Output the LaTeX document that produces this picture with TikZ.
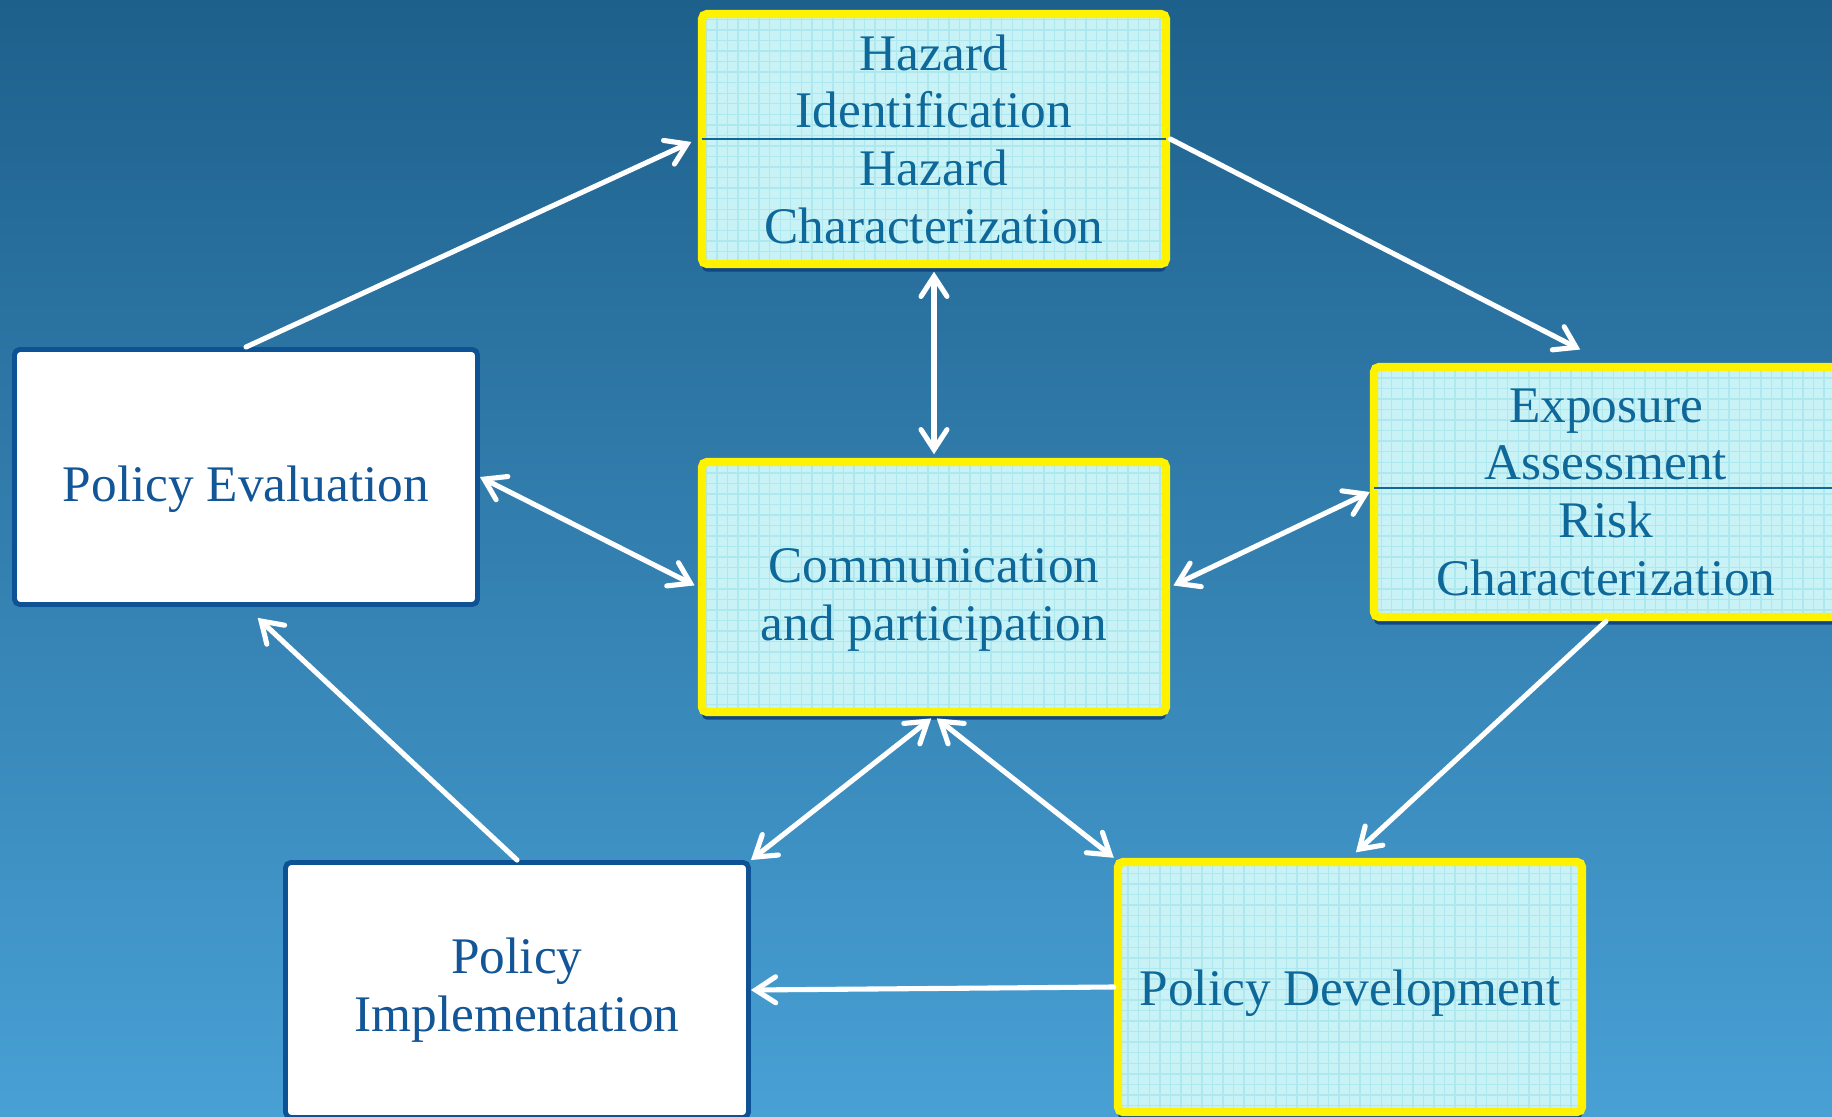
\documentclass[tikz,border=0pt]{standalone}
\usepackage{fontspec}
\setmainfont{Liberation Serif}
\usetikzlibrary{arrows.meta,shadows,patterns}

\definecolor{bgtop}{RGB}{30,96,140}
\definecolor{bgbot}{RGB}{72,160,212}
\definecolor{cellfill}{RGB}{200,242,245}
\definecolor{cellgrid}{RGB}{172,232,238}
\definecolor{celltext}{RGB}{14,104,154}
\definecolor{plaintext}{RGB}{18,86,152}
\definecolor{plainrim}{RGB}{14,82,150}
\definecolor{rimshadow}{RGB}{16,70,130}

% lowers a line of text inside its box without changing the box
\newcommand\sunk[2][0.12cm]{\raisebox{-#1}[\height][\depth]{#2}}

\tikzset{
  stage/.style={rectangle, rounded corners=1.5pt, align=center,
    font=\fontsize{14.6}{16.4}\selectfont},
  % yellow framed, hatched boxes
  assess/.style={stage, draw=yellow, line width=2.4pt, text=celltext,
    drop shadow={shadow xshift=0pt, shadow yshift=-2.2pt,
      fill=rimshadow, opacity=1},
    preaction={fill=cellfill}, pattern=grid, pattern color=cellgrid,
    minimum width=4.64cm, minimum height=2.5cm},
  % white policy boxes
  policy/.style={stage, draw=plainrim, line width=1.4pt, text=plaintext,
    fill=white, minimum width=4.63cm, minimum height=2.55cm},
  split/.style={celltext, line width=0.5pt, shorten >=1.2pt, shorten <=1.2pt},
  flow/.style={white, line width=1.45pt, line cap=round,
    -{Straight Barb[length=2mm,width=2.6mm,line cap=round]}},
  twoway/.style={flow,
    {Straight Barb[length=2mm,width=2.6mm,line cap=round]}-{Straight Barb[length=2mm,width=2.6mm,line cap=round]}}
}

\begin{document}
\begin{tikzpicture}

% ===== background =====
\useasboundingbox (0,0) rectangle (18.32,11.16);
\clip (0,0) rectangle (18.32,11.16);
\shade[top color=bgtop, bottom color=bgbot] (0,0) rectangle (18.32,11.16);

% ===== assessment side =====
\node[assess] (haz) at (9.34,9.77)
  {Hazard\\Identification\\Hazard\\Characterization};
\node[assess] (comm) at (9.34,5.29)
  {\sunk[0.13cm]{Communication}\\\sunk[0.13cm]{and participation}};
\node[assess] (expo) at (16.06,6.24)
  {Exposure\\Assessment\\Risk\\Characterization};
\node[assess] (pd) at (13.50,1.29) {\sunk[0.06cm]{Policy Development}};

\draw[split] (haz.west) -- (haz.east);
\draw[split] ([yshift=0.4mm]expo.west) -- ([yshift=0.4mm]expo.east);

% ===== policy side =====
\node[policy] (pe) at (2.46,6.39) {\sunk{Policy Evaluation}};
\node[policy] (pi) at (5.17,1.26) {Policy\\Implementation};

% ===== the cycle =====
\draw[flow, shorten >=2pt] (pe.north) -- (haz.west);
\draw[flow, shorten >=2.9mm] (haz.east) -- (expo.north);
\draw[flow, shorten >=0.8mm] (expo.south) -- (pd.north);
\draw[flow] (pd.west) -- (pi.east);
\draw[flow, shorten >=1.6mm] (pi.north) -- (pe.south);

% links to the centre
\draw[twoway, shorten <=1pt, shorten >=1pt] (haz.south) -- (comm.north);
\draw[twoway, shorten >=1pt] (pe.east) -- (comm.west);
\draw[twoway, shorten <=1pt] (comm.east) -- (expo.west);
\draw[twoway, shorten <=1pt] (comm.south) -- (pi.north east);
\draw[twoway, shorten <=1pt] (comm.south) -- (pd.north west);

\end{tikzpicture}
\end{document}
